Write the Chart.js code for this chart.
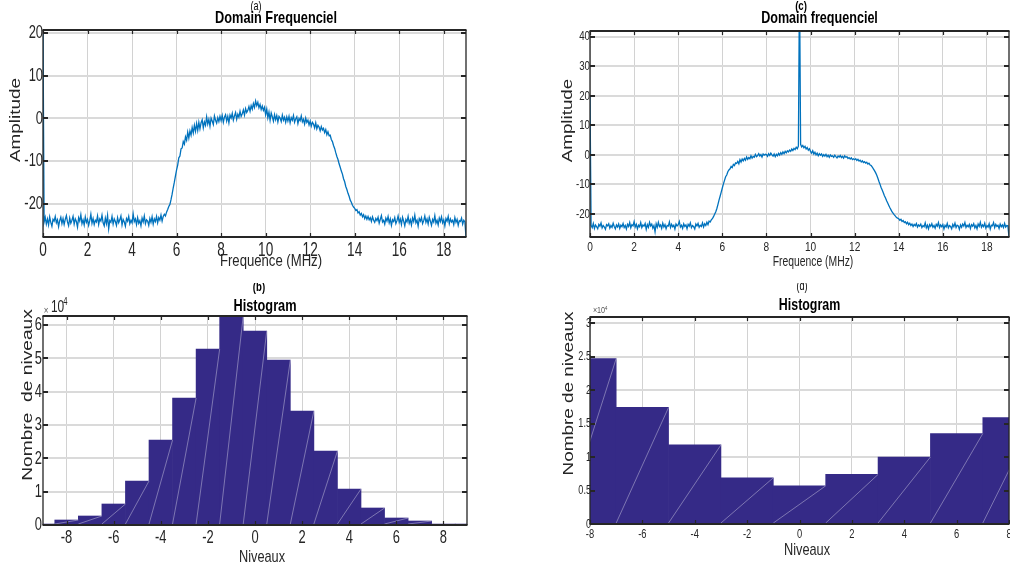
<!DOCTYPE html>
<html lang="fr">
<head>
<meta charset="UTF-8" />
<title>Domain frequenciel / Histogram</title>
<script src="https://cdn.jsdelivr.net/npm/chart.js@4.4.1/dist/chart.umd.min.js"></script>
<style>
  html, body { margin: 0; padding: 0; background: #fff; overflow: hidden; }
  body { width: 1010px; height: 566px; position: relative; }
  .panel { position: absolute; }
</style>
</head>
<body>
<div class="panel" style="left:0;top:0;width:505px;height:283px"><canvas id="chartA"></canvas></div>
<div class="panel" style="left:505px;top:0;width:515px;height:283px"><canvas id="chartC"></canvas></div>
<div class="panel" style="left:0;top:283px;width:505px;height:283px"><canvas id="chartB"></canvas></div>
<div class="panel" style="left:505px;top:283px;width:515px;height:283px"><canvas id="chartD"></canvas></div>
<script>
// spectra are sampled every 0.05 MHz from 0 to 19 MHz
const FREQ_STEP = 0.05

// (a) Domain Frequenciel, amplitude per sample
const spectrumA = [
  20.5, -24.2, -23.1, -24.7, -23.5, -24.9, -23.0, -24.3, -25.2, -23.6, -24.0, -22.9, -24.4, -23.7, -25.3, -23.9, -23.1, -24.6, -23.4, -24.8,
  -23.6, -22.7, -24.2, -25.1, -23.3, -24.5, -23.8, -22.9, -24.7, -23.5, -24.1, -25.4, -23.2, -24.0, -22.5, -24.6, -23.7, -24.9, -23.0, -24.3,
  -23.6, -25.0, -23.9, -22.4, -24.5, -23.4, -24.8, -23.8, -24.2, -22.8, -24.8, -23.5, -24.0, -22.6, -24.4, -25.1, -23.3, -24.6, -22.7, -25.8,
  -23.9, -24.3, -22.9, -24.7, -23.5, -24.1, -25.0, -23.2, -24.4, -23.7, -22.8, -24.9, -23.6, -24.2, -25.2, -23.4, -24.0, -22.9, -24.6, -23.8,
  -24.4, -22.3, -24.1, -23.5, -24.8, -23.2, -24.5, -23.9, -25.1, -23.3, -24.2, -22.8, -24.6, -23.7, -24.0, -25.0, -23.4, -24.3, -23.0, -24.7,
  -23.5, -24.1, -22.9, -24.4, -23.2, -23.8, -22.6, -24.0, -22.9, -22.4, -22.8, -21.9, -21.3, -20.6, -20.1, -19.0, -17.7, -16.2, -14.9, -13.4,
  -12.0, -10.9, -9.2, -8.8, -7.1, -6.9, -5.4, -6.0, -4.3, -5.1, -3.2, -4.6, -2.9, -3.9, -2.1, -3.4, -1.6, -3.0, -1.2, -2.8,
  -0.9, -2.4, -1.0, -0.3, -2.2, -0.8, -1.6, 0.4, -1.3, -0.2, -1.8, 0.1, -0.6, -1.4, 0.6, -0.4, -1.1, 0.2, -0.7, 0.5,
  -0.5, 0.7, -0.9, 0.3, 0.9, -0.6, 0.5, -1.0, 0.8, 0.1, 1.2, -0.4, 0.6, 1.4, -0.2, 1.0, 0.3, 1.7, 0.5, 1.1,
  2.0, 0.8, 2.3, 1.4, 1.9, 2.8, 1.7, 3.0, 2.2, 3.5, 2.6, 4.1, 3.0, 3.8, 2.5, 3.3, 2.1, 2.9, 1.9, 2.6,
  0.9, 2.2, 0.2, 1.5, -0.4, 1.3, 0.4, -0.6, 0.9, -0.3, 0.7, -0.8, 0.5, 0.1, -0.7, 0.8, -0.4, 0.3, -0.9, 0.4,
  -0.6, 0.5, -1.0, 0.2, -0.4, 0.7, -0.9, -0.1, 0.4, -1.2, 0.0, -0.5, 0.6, -0.8, -0.2, -1.3, 0.1, -0.9, -0.4, -1.5,
  -0.6, -1.8, -0.9, -1.3, -2.2, -1.0, -2.4, -1.6, -2.0, -2.9, -1.9, -2.7, -2.3, -3.3, -2.6, -3.8, -3.1, -4.0, -3.9, -4.9,
  -5.4, -6.3, -7.0, -8.0, -8.9, -9.6, -10.6, -11.4, -12.3, -13.0, -14.1, -14.8, -15.9, -16.6, -17.5, -18.2, -19.1, -19.6, -20.3, -20.7,
  -21.0, -21.5, -21.3, -22.1, -21.8, -22.6, -22.2, -23.0, -22.5, -23.4, -22.8, -23.6, -22.9, -23.7, -23.2, -24.1, -23.0, -23.8, -24.3, -23.4,
  -23.9, -23.1, -24.5, -23.6, -22.7, -24.2, -23.8, -24.7, -23.3, -24.0, -22.9, -24.4, -23.5, -25.0, -23.7, -24.1, -23.2, -24.6, -23.9, -22.8,
  -24.3, -23.5, -24.8, -23.1, -24.0, -25.1, -23.6, -24.2, -22.9, -24.5, -23.7, -24.9, -23.3, -24.1, -22.6, -24.4, -23.8, -25.2, -23.4, -24.0,
  -23.2, -24.6, -23.9, -22.8, -24.3, -23.5, -24.7, -23.1, -24.0, -25.0, -23.6, -24.2, -22.7, -24.5, -23.8, -24.9, -23.3, -24.1, -23.0, -24.4,
  -23.7, -25.1, -23.4, -24.0, -22.9, -24.6, -23.5, -24.2, -23.8, -24.8, -23.2, -24.3, -23.6, -25.0, -23.9, -24.1, -23.3, -24.7, -23.8, -24.2,
  -27.7,
]

// (c) Domain frequenciel, with the carrier line near 9.5 MHz
const spectrumC = [
  20.0, -23.8, -24.6, -23.2, -24.9, -23.7, -24.3, -25.0, -23.5, -24.1, -23.0, -24.7, -23.9, -24.4, -25.2, -23.6, -24.0, -23.3, -24.8, -23.9,
  -24.5, -23.1, -24.2, -25.0, -23.7, -24.4, -23.4, -24.9, -23.8, -24.3, -23.2, -24.6, -23.9, -25.1, -23.5, -24.2, -22.9, -24.7, -23.6, -24.0,
  -22.6, -24.4, -23.5, -25.0, -23.8, -24.3, -22.9, -24.6, -23.7, -24.1, -23.2, -25.2, -23.6, -24.5, -22.8, -24.0, -23.4, -24.8, -23.9, -26.0,
  -23.3, -24.5, -22.8, -24.2, -23.7, -24.9, -23.1, -24.4, -23.6, -25.0, -23.9, -24.1, -22.7, -24.6, -23.5, -24.3, -23.8, -25.1, -23.4, -24.0,
  -23.6, -22.5, -24.4, -23.8, -24.9, -23.3, -24.2, -23.7, -25.0, -23.5, -24.1, -23.0, -24.6, -23.9, -24.3, -25.1, -23.4, -24.0, -23.2, -24.5,
  -23.8, -24.2, -23.0, -24.4, -23.3, -23.9, -22.8, -23.6, -22.4, -22.7, -22.0, -21.6, -20.9, -20.1, -19.3, -18.2, -16.8, -15.3, -14.0, -12.6,
  -11.2, -9.8, -8.6, -7.4, -6.8, -5.7, -5.1, -4.7, -3.9, -4.3, -3.2, -3.6, -2.7, -2.9, -2.2, -3.0, -1.6, -2.4, -1.4, -2.0,
  -1.2, -1.8, -0.7, -1.5, -0.9, -1.3, -0.3, -1.1, -0.5, -0.8, 0.2, -0.6, -0.2, 0.4, -0.4, 0.1, -0.7, 0.3, -0.1, 0.2,
  0.1, -0.5, 0.4, -0.2, 0.6, 0.0, -0.4, 0.3, -0.6, 0.2, -0.3, 0.5, -0.1, 0.8, 0.2, 1.0, 0.4, 1.2, 0.7, 1.4,
  1.0, 1.6, 1.2, 2.0, 1.5, 2.2, 1.8, 2.6, 2.1, 3.0, 60.0, 3.6, 2.7, 3.2, 2.4, 2.9, 2.0, 2.5, 1.6, 2.1,
  1.2, 0.6, 1.4, 0.3, 0.9, 0.0, 0.6, -0.3, 0.4, -0.1, 0.3, -0.5, 0.1, -0.4, 0.2, -0.6, -0.1, -0.8, 0.0, -0.5,
  -0.3, -0.8, -0.1, -0.6, -1.0, -0.4, -0.7, -0.2, -0.9, -0.5, -1.1, -0.3, -0.8, -0.6, -1.2, -0.9, -1.4, -1.0, -1.6, -1.3,
  -1.6, -1.3, -1.9, -1.5, -2.1, -1.8, -2.4, -2.0, -2.6, -2.3, -2.8, -2.5, -3.1, -2.8, -3.4, -3.6, -4.1, -4.7, -5.3, -6.0,
  -6.8, -7.8, -8.9, -9.9, -11.0, -11.9, -12.8, -13.8, -14.6, -15.5, -16.3, -17.1, -17.9, -18.6, -19.3, -19.8, -20.3, -20.7, -21.2, -21.4,
  -21.6, -22.1, -21.8, -22.5, -22.2, -22.9, -22.6, -23.3, -22.8, -23.6, -23.1, -23.9, -23.4, -24.2, -23.5, -24.0, -23.2, -24.4, -23.7, -24.1,
  -23.4, -24.6, -23.9, -24.3, -23.0, -24.7, -23.8, -25.0, -23.6, -24.2, -23.3, -24.5, -23.9, -24.8, -23.5, -24.1, -22.9, -24.6, -23.7, -24.3,
  -23.6, -25.1, -23.8, -24.4, -23.2, -24.7, -23.9, -24.2, -25.0, -23.5, -24.3, -23.1, -24.6, -23.8, -24.0, -25.2, -23.7, -24.5, -23.4, -24.1,
  -22.9, -24.6, -23.8, -24.3, -23.5, -24.9, -23.6, -24.1, -23.3, -24.7, -23.9, -25.0, -23.4, -24.2, -22.8, -24.5, -23.7, -24.3, -23.1, -24.8,
  -23.9, -24.4, -23.3, -25.1, -23.8, -24.0, -22.9, -24.6, -23.5, -24.2, -23.8, -24.9, -23.4, -24.3, -23.7, -24.6, -23.2, -24.4, -23.9, -24.0,
  -27.8,
]

const freqTicks = [0, 2, 4, 6, 8, 10, 12, 14, 16, 18]
const ampTicksA = [-20, -10, 0, 10, 20]
const ampTicksC = [-20, -10, 0, 10, 20, 30, 40]

// (b) histogram, bins of width 1
const levelsB = [-9, -8, -7, -6, -5, -4, -3, -2, -1, 0, 1, 2, 3, 4, 5, 6, 7, 8, 9]
const countsB = [200, 1500, 2700, 6300, 13200, 25500, 38100, 52800, 62700, 58200, 49500, 34200, 22200, 10800, 5100, 2100, 1200, 300, 200]
const levelTicksB = [-8, -6, -4, -2, 0, 2, 4, 6, 8]
const countTicksB = [0, 10000, 20000, 30000, 40000, 50000, 60000]

// (d) histogram, bins of width 2
const levelsD = [-8, -6, -4, -2, 0, 2, 4, 6, 8]
const countsD = [24700, 17400, 11800, 6900, 5700, 7400, 10000, 13500, 15900]
const levelTicksD = [-8, -6, -4, -2, 0, 2, 4, 6, 8]
const countTicksD = [0, 5000, 10000, 15000, 20000, 25000, 30000]

const LINE_BLUE = '#0072BD'
const BAR_PURPLE = '#352A87'
const INK = '#262626'
const FONT = '"Liberation Sans", Arial, sans-serif'

function txt(ctx, s, x, y, f) {
  ctx.save()
  ctx.translate(x, y)
  if (f.rot) ctx.rotate(f.rot)
  ctx.scale(f.sx || 1, 1)
  ctx.font = `${f.bold ? 'bold ' : ''}${f.size}px ${FONT}`
  ctx.fillStyle = f.color || INK
  ctx.textAlign = f.align || 'center'
  ctx.textBaseline = 'middle'
  ctx.fillText(s, 0, 0)
  ctx.restore()
}

// box, inward ticks, tick labels and titles drawn the way MATLAB does
function matlabAxes(cfg) {
  return {
    id: 'matlabAxes',
    afterDatasetsDraw(chart) {
      if (!cfg.hatch) return
      const { ctx, chartArea: a } = chart
      ctx.save()
      ctx.beginPath()
      ctx.rect(a.left, a.top, a.right - a.left, a.bottom - a.top)
      ctx.clip()
      ctx.strokeStyle = 'rgba(255,255,255,0.45)'
      ctx.lineWidth = 0.8
      for (const bar of chart.getDatasetMeta(0).data) {
        const p = bar.getProps(['x', 'y', 'base', 'width'], true)
        ctx.beginPath()
        ctx.moveTo(p.x - p.width / 2, p.base)
        ctx.lineTo(p.x + p.width / 2, p.y)
        ctx.stroke()
      }
      ctx.restore()
    },
    afterDraw(chart) {
      const { ctx, chartArea: a, scales } = chart
      const x = scales.x
      const y = scales.y
      ctx.save()
      ctx.strokeStyle = INK
      ctx.lineWidth = 1.2
      for (const t of x.ticks) {
        const px = Math.round(x.getPixelForValue(t.value)) + 0.5
        ctx.beginPath()
        ctx.moveTo(px, a.bottom); ctx.lineTo(px, a.bottom - 4)
        ctx.moveTo(px, a.top); ctx.lineTo(px, a.top + 4)
        ctx.stroke()
      }
      ctx.lineWidth = 2
      for (const t of y.ticks) {
        const py = Math.round(y.getPixelForValue(t.value))
        ctx.beginPath()
        ctx.moveTo(a.left, py); ctx.lineTo(a.left + 5, py)
        ctx.moveTo(a.right, py); ctx.lineTo(a.right - 5, py)
        ctx.stroke()
      }
      ctx.lineWidth = 2
      ctx.beginPath()
      ctx.moveTo(a.left - 0.5, a.top); ctx.lineTo(a.right + 0.5, a.top)
      ctx.moveTo(a.left - 0.5, a.bottom); ctx.lineTo(a.right + 0.5, a.bottom)
      ctx.stroke()
      ctx.lineWidth = 1.3
      ctx.beginPath()
      ctx.moveTo(a.left, a.top); ctx.lineTo(a.left, a.bottom)
      ctx.moveTo(a.right, a.top); ctx.lineTo(a.right, a.bottom)
      ctx.stroke()
      ctx.restore()

      for (const t of x.ticks) {
        txt(ctx, t.label ?? String(t.value), x.getPixelForValue(t.value), a.bottom + cfg.xt.dy, cfg.xt)
      }
      for (const t of y.ticks) {
        txt(ctx, t.label ?? String(t.value), a.left + cfg.yt.dx, y.getPixelForValue(t.value), { ...cfg.yt, align: 'right' })
      }
      for (const l of cfg.texts) txt(ctx, l.s, l.x, l.y, l)
    },
  }
}

function linScale(min, max, ticks, fmt, grid, fit) {
  return {
    type: 'linear',
    min,
    max,
    offset: false,
    afterBuildTicks: (s) => { s.ticks = ticks.map((value) => ({ value })) },
    afterFit: fit,
    ticks: { display: false, callback: fmt },
    grid: { color: grid.color, lineWidth: grid.width, drawTicks: false, offset: false },
    border: { display: false },
  }
}

const H_GRID = { color: '#dadada', width: 2 }
const V_GRID = { color: '#d2d2d2', width: 1 }

function panel(id, type, dataset, area, size, xs, ys, cfg) {
  return new Chart(document.getElementById(id), {
    type,
    data: { datasets: [dataset] },
    options: {
      responsive: true,
      maintainAspectRatio: false,
      animation: false,
      events: [],
      layout: { padding: { left: 0, top: area.top, right: size.w - area.right, bottom: 0 } },
      plugins: { legend: { display: false }, tooltip: { enabled: false }, title: { display: false } },
      scales: {
        x: linScale(xs.min, xs.max, xs.ticks, xs.fmt, V_GRID, (s) => { s.height = size.h - area.bottom }),
        y: linScale(ys.min, ys.max, ys.ticks, ys.fmt, H_GRID, (s) => { s.width = area.left }),
      },
    },
    plugins: [matlabAxes(cfg)],
  })
}

const asPoints = (vals) => vals.map((v, i) => ({ x: +(i * FREQ_STEP).toFixed(2), y: v }))
const asBars = (xs, ys) => xs.map((x, i) => ({ x, y: ys[i] }))
const per1e4 = (v) => String(+(v / 10000).toFixed(1))
const ROT = -Math.PI / 2

panel('chartA', 'line',
  { data: asPoints(spectrumA), borderColor: LINE_BLUE, borderWidth: 1.3, pointRadius: 0, tension: 0 },
  { left: 43, top: 30, right: 466, bottom: 237 }, { w: 505, h: 283 },
  { min: 0, max: 19, ticks: freqTicks },
  { min: -27.72, max: 20.7, ticks: ampTicksA },
  {
    xt: { size: 20, sx: 0.68, dy: 13 },
    yt: { size: 19, sx: 0.68, dx: 0 },
    texts: [
      { s: '(a)', x: 256, y: 7, size: 12, sx: 0.75, color: '#000' },
      { s: 'Domain Frequenciel', x: 276, y: 18, size: 17, bold: true, sx: 0.75, color: '#000' },
      { s: 'Frequence (MHz)', x: 271, y: 262, size: 16, sx: 0.82 },
      { s: 'Amplitude', x: 16, y: 120, size: 14, sx: 1.35, rot: ROT },
    ],
  })

panel('chartC', 'line',
  { data: asPoints(spectrumC), borderColor: LINE_BLUE, borderWidth: 1.3, pointRadius: 0, tension: 0 },
  { left: 85, top: 31, right: 504, bottom: 237 }, { w: 515, h: 283 },
  { min: 0, max: 19, ticks: freqTicks },
  { min: -27.78, max: 41.93, ticks: ampTicksC },
  {
    xt: { size: 13.5, sx: 0.75, dy: 10 },
    yt: { size: 13.5, sx: 0.72, dx: 0 },
    texts: [
      { s: '(c)', x: 296, y: 7, size: 12, bold: true, sx: 0.8, color: '#000' },
      { s: 'Domain frequenciel', x: 314.5, y: 18, size: 17, bold: true, sx: 0.74, color: '#000' },
      { s: 'Frequence (MHz)', x: 308, y: 262, size: 14, sx: 0.74 },
      { s: 'Amplitude', x: 63.5, y: 120.5, size: 14, sx: 1.34, rot: ROT },
    ],
  })

panel('chartB', 'bar',
  { data: asBars(levelsB, countsB), backgroundColor: BAR_PURPLE, barPercentage: 1, categoryPercentage: 1, borderWidth: 0, clip: 0 },
  { left: 43, top: 33, right: 467, bottom: 242 }, { w: 505, h: 283 },
  { min: -9, max: 9, ticks: levelTicksB },
  { min: 0, max: 62700, ticks: countTicksB, fmt: per1e4 },
  {
    hatch: true,
    xt: { size: 19, sx: 0.68, dy: 13 },
    yt: { size: 19, sx: 0.68, dx: -1 },
    texts: [
      { s: '(b)', x: 259, y: 5, size: 12, bold: true, sx: 0.8, color: '#000' },
      { s: 'Histogram', x: 265, y: 23, size: 17, bold: true, sx: 0.75, color: '#000' },
      { s: 'Niveaux', x: 262, y: 274, size: 17, sx: 0.75 },
      { s: 'Nombre  de niveaux', x: 28, y: 112, size: 14, sx: 1.37, rot: ROT },
      { s: '×', x: 46, y: 28, size: 10, sx: 0.8, color: '#555' },
      { s: '10', x: 57.5, y: 24, size: 17, sx: 0.7 },
      { s: '4', x: 65.5, y: 19, size: 11, sx: 0.7 },
    ],
  })

panel('chartD', 'bar',
  { data: asBars(levelsD, countsD), backgroundColor: BAR_PURPLE, barPercentage: 1, categoryPercentage: 1, borderWidth: 0, clip: 0 },
  { left: 85, top: 34, right: 504, bottom: 241 }, { w: 515, h: 283 },
  { min: -8, max: 8, ticks: levelTicksD },
  { min: 0, max: 30900, ticks: countTicksD, fmt: per1e4 },
  {
    hatch: true,
    xt: { size: 13, sx: 0.72, dy: 10 },
    yt: { size: 13, sx: 0.7, dx: 1 },
    texts: [
      { s: '(d)', x: 297, y: 4, size: 12, sx: 0.75, color: '#000' },
      { s: 'Histogram', x: 304.5, y: 22, size: 17, bold: true, sx: 0.73, color: '#000' },
      { s: 'Niveaux', x: 302, y: 267, size: 17, sx: 0.75 },
      { s: 'Nombre de niveaux', x: 64, y: 110.5, size: 14, sx: 1.35, rot: ROT },
      { s: '×10', x: 94, y: 28, size: 9, sx: 0.8, color: '#555' },
      { s: '4', x: 101, y: 25, size: 6, sx: 0.8, color: '#555' },
    ],
  })
</script>
</body>
</html>
